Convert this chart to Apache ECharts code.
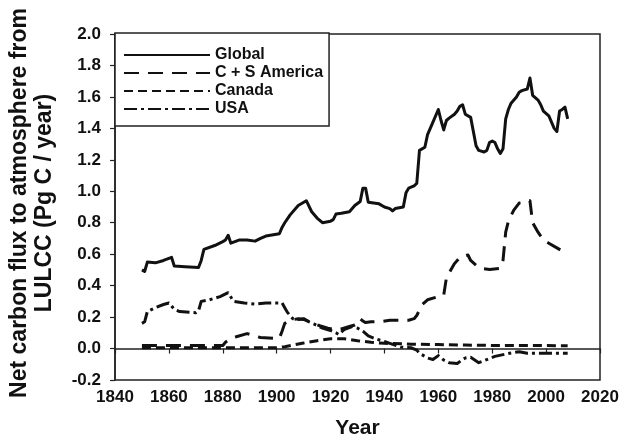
<!DOCTYPE html>
<html>
<head>
<meta charset="utf-8">
<script src="https://cdn.jsdelivr.net/npm/echarts@6/dist/echarts.min.js"></script>
<style>
html,body{margin:0;padding:0;background:#fff;}
#chart{width:632px;height:438px;}
</style>
</head>
<body>
<div id="chart"></div>
<script>
// ---- data (year, Pg C / year) ----
const seriesNames = ['Global', 'C + S America', 'Canada', 'USA'];

const globalData = [
  [1850,0.50],[1851,0.49],[1852,0.55],[1855,0.545],[1858,0.56],[1861,0.58],[1862,0.525],
  [1866,0.52],[1871,0.515],[1872,0.56],[1873,0.63],[1877,0.655],[1880,0.68],[1881,0.69],
  [1882,0.72],[1883,0.67],[1886,0.69],[1889,0.69],[1892,0.683],[1894,0.70],[1896,0.715],
  [1901,0.73],[1902,0.77],[1903,0.80],[1905,0.85],[1908,0.91],[1911,0.94],[1913,0.87],
  [1915,0.83],[1917,0.80],[1920,0.81],[1921,0.82],[1922,0.855],[1924,0.86],[1927,0.87],
  [1929,0.91],[1931,0.935],[1932,1.02],[1933,1.02],[1934,0.93],[1936,0.925],[1938,0.92],
  [1940,0.90],[1942,0.89],[1943,0.875],[1944,0.89],[1947,0.90],[1948,0.99],[1949,1.02],
  [1951,1.035],[1952,1.05],[1953,1.26],[1955,1.28],[1956,1.36],[1958,1.44],[1960,1.52],
  [1961,1.45],[1962,1.39],[1963,1.45],[1964,1.465],[1966,1.49],[1967,1.51],[1968,1.54],
  [1969,1.55],[1970,1.49],[1972,1.47],[1973,1.38],[1974,1.29],[1975,1.26],[1977,1.25],
  [1978,1.26],[1979,1.31],[1980,1.32],[1981,1.31],[1982,1.27],[1983,1.24],[1984,1.27],
  [1985,1.46],[1986,1.52],[1987,1.56],[1989,1.60],[1990,1.63],[1991,1.64],[1993,1.65],
  [1994,1.72],[1995,1.61],[1997,1.58],[1998,1.55],[1999,1.51],[2001,1.48],[2002,1.44],
  [2003,1.40],[2004,1.38],[2005,1.51],[2006,1.52],[2007,1.535],[2008,1.46]
];

const csAmericaData = [
  [1850,0.02],[1860,0.02],[1870,0.02],[1880,0.02],[1881,0.04],[1883,0.065],[1885,0.075],
  [1889,0.095],[1891,0.085],[1894,0.07],[1899,0.065],[1901,0.065],[1902,0.11],[1903,0.16],
  [1905,0.18],[1908,0.19],[1910,0.185],[1913,0.165],[1916,0.145],[1919,0.13],[1922,0.118],
  [1924,0.125],[1927,0.14],[1929,0.15],[1930,0.16],[1931,0.19],[1932,0.175],[1933,0.165],
  [1935,0.17],[1939,0.172],[1942,0.18],[1949,0.18],[1951,0.19],[1952,0.21],[1954,0.28],
  [1956,0.31],[1959,0.325],[1962,0.34],[1963,0.45],[1966,0.54],[1968,0.58],[1971,0.595],
  [1972,0.56],[1974,0.53],[1976,0.51],[1979,0.503],[1983,0.51],[1984,0.56],[1985,0.74],
  [1986,0.81],[1988,0.88],[1990,0.925],[1992,0.93],[1993,0.94],[1994,0.94],[1995,0.80],
  [1997,0.74],[1999,0.69],[2001,0.67],[2004,0.64],[2006,0.62],[2008,0.605]
];

const canadaData = [
  [1850,0.005],[1900,0.005],[1903,0.012],[1910,0.035],[1915,0.05],[1920,0.062],[1925,0.062],
  [1930,0.05],[1935,0.04],[1940,0.033],[1950,0.028],[1960,0.025],[1970,0.022],[1980,0.02],
  [1990,0.02],[2008,0.018]
];

const usaData = [
  [1850,0.16],[1851,0.17],[1852,0.235],[1855,0.26],[1858,0.28],[1860,0.29],[1862,0.25],
  [1864,0.235],[1870,0.228],[1871,0.24],[1872,0.30],[1875,0.31],[1879,0.33],[1882,0.355],
  [1884,0.30],[1888,0.29],[1892,0.283],[1896,0.29],[1902,0.29],[1903,0.26],[1904,0.23],
  [1906,0.19],[1908,0.185],[1910,0.19],[1912,0.17],[1914,0.155],[1917,0.13],[1920,0.115],
  [1922,0.10],[1923,0.09],[1925,0.12],[1928,0.14],[1930,0.13],[1932,0.11],[1934,0.08],
  [1937,0.06],[1940,0.045],[1942,0.033],[1946,0.01],[1950,0.005],[1952,-0.01],[1953,-0.03],
  [1956,-0.06],[1958,-0.07],[1960,-0.045],[1962,-0.073],[1964,-0.09],[1967,-0.095],
  [1969,-0.07],[1970,-0.06],[1972,-0.055],[1975,-0.09],[1978,-0.07],[1981,-0.05],
  [1985,-0.035],[1988,-0.025],[1990,-0.02],[1993,-0.03],[1998,-0.03],[2003,-0.03],[2008,-0.03]
];

const xAxisRange = {min: 1840, max: 2020, interval: 20};
const yAxisRange = {min: -0.2, max: 2.0, interval: 0.2};
const xTitle = 'Year';
const yTitle = 'Net carbon flux to atmosphere from\nLULCC (Pg C / year)';

// ---- chart ----
const FONT = '"Liberation Sans", Arial, Helvetica, sans-serif';
const INK = '#111';
const dashes = [null, [15, 9], [9, 5], [13, 4, 3, 4]];
const allData = [globalData, csAmericaData, canadaData, usaData];

const chart = echarts.init(document.getElementById('chart'), null, {renderer: 'canvas'});
chart.setOption({
  animation: false,
  backgroundColor: '#fff',
  grid: {left: 115, right: 32, top: 34, bottom: 58, show: true, borderColor: '#222', borderWidth: 1.5,
    containLabel: false, outerBoundsMode: 'none'},
  legend: {
    orient: 'vertical',
    left: 115, top: 33,
    padding: [14, 6, 9, 8],
    itemWidth: 86, itemHeight: 14, itemGap: 2,
    borderColor: '#222', borderWidth: 1.5, backgroundColor: '#fff',
    itemStyle: {opacity: 0},
    textStyle: {fontFamily: FONT, fontWeight: 'bold', fontSize: 16, color: INK},
    data: seriesNames
  },
  xAxis: {
    type: 'value', min: xAxisRange.min, max: xAxisRange.max, interval: xAxisRange.interval,
    name: xTitle, nameLocation: 'middle', nameGap: 38,
    nameTextStyle: {fontFamily: FONT, fontWeight: 'bold', fontSize: 21, color: INK},
    axisLine: {show: true, lineStyle: {color: '#222', width: 1.5}},
    axisTick: {show: true, inside: false, length: 5, lineStyle: {color: '#222', width: 1.2}},
    axisLabel: {fontFamily: FONT, fontWeight: 'bold', fontSize: 17, color: INK, margin: 9,
      formatter: v => String(v)},
    splitLine: {show: false}
  },
  yAxis: {
    type: 'value', min: yAxisRange.min, max: yAxisRange.max, interval: yAxisRange.interval,
    name: yTitle, nameLocation: 'middle', nameRotate: 90, nameGap: 58,
    nameTextStyle: {fontFamily: FONT, fontWeight: 'bold', fontSize: 23, color: INK, lineHeight: 25,
      align: 'center', padding: [0, 0, 0, 8]},
    axisLine: {show: true, lineStyle: {color: '#222', width: 1.5}},
    axisTick: {show: true, inside: false, length: 5, lineStyle: {color: '#222', width: 1.2}},
    axisLabel: {fontFamily: FONT, fontWeight: 'bold', fontSize: 17, color: INK, margin: 14,
      formatter: v => v.toFixed(1)},
    splitLine: {show: false}
  },
  series: seriesNames.map((n, i) => ({
    name: n, type: 'line', data: allData[i], symbol: 'none', showSymbol: false,
    z: 10 - i,
    lineStyle: {color: INK, width: 3, type: dashes[i] || 'solid', cap: 'butt', join: 'round'},
    itemStyle: {color: INK}
  }))
});
</script>
</body>
</html>
